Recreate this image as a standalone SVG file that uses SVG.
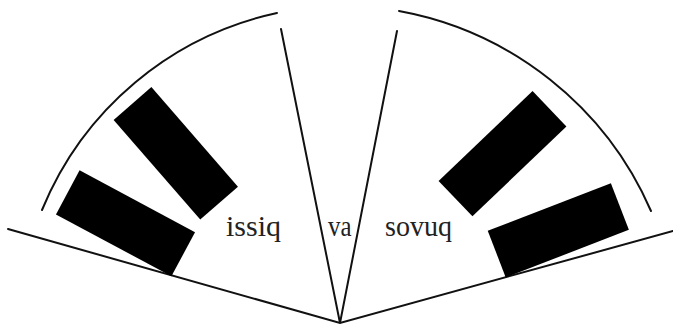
<svg xmlns="http://www.w3.org/2000/svg" width="673" height="325" viewBox="0 0 673 325">
  <style>
    .ln { fill: none; stroke: #111; stroke-width: 2; stroke-linecap: round; }
    .blk { fill: #000; }
    .lbl { font-family: "Liberation Serif", "Times New Roman", serif; font-size: 29px; fill: #222; }
  </style>
  <rect width="673" height="325" fill="#fff"/>
  <g id="connectors">
    <path class="ln" d="M 8,229 L 340,323 L 673,231"/>
    <path class="ln" d="M 281,29 L 340,323 L 397,31"/>
    <path class="ln" d="M 42,210 A 329 329 0 0 1 277,13"/>
    <path class="ln" d="M 399,11 A 342 342 0 0 1 651,211"/>
  </g>
  <g id="block-left-upper">
    <rect class="blk" x="-66" y="-25" width="132" height="50" transform="translate(175.8,153.3) rotate(49)"/>
  </g>
  <g id="block-left-lower">
    <rect class="blk" x="-65.5" y="-25" width="131" height="50" transform="translate(125.5,223.3) rotate(28.2)"/>
  </g>
  <g id="block-right-upper">
    <rect class="blk" x="-65" y="-24.5" width="130" height="49" transform="translate(502.5,153.7) rotate(-43.7)"/>
  </g>
  <g id="block-right-lower">
    <rect class="blk" x="-66" y="-25" width="132" height="50" transform="translate(558.3,230.3) rotate(-21.1)"/>
  </g>
  <g id="label-issiq">
    <text class="lbl" x="226" y="236" textLength="55" lengthAdjust="spacingAndGlyphs">issiq</text>
  </g>
  <g id="label-va">
    <text class="lbl" x="328" y="236" textLength="23.5" lengthAdjust="spacingAndGlyphs">va</text>
  </g>
  <g id="label-sovuq">
    <text class="lbl" x="385" y="236" textLength="67" lengthAdjust="spacingAndGlyphs">sovuq</text>
  </g>
</svg>
